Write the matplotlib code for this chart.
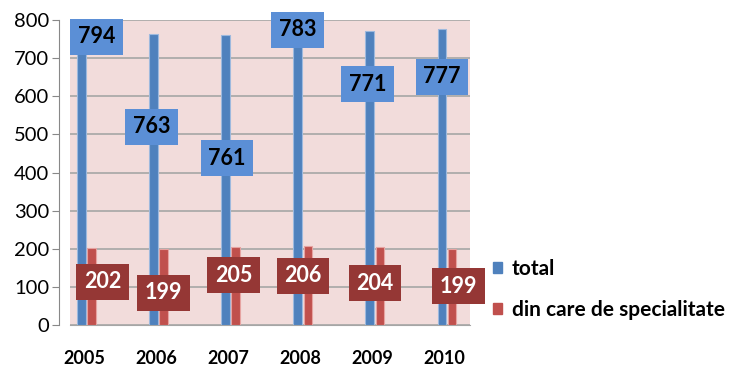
import matplotlib
matplotlib.use("Agg")
import matplotlib.pyplot as plt
from matplotlib.patches import Patch
from matplotlib.font_manager import FontProperties

years = ["2005", "2006", "2007", "2008", "2009", "2010"]
total = [794, 763, 761, 783, 771, 777]
specialitate = [202, 199, 205, 206, 204, 199]
series_names = ["total", "din care de specialitate"]
y_ticks = [0, 100, 200, 300, 400, 500, 600, 700, 800]

# label placement (data units) as in the reference
total_label_x = [0.17, -0.07, -0.02, -0.04, -0.07, -0.04]
total_label_y = [756, 520, 438, 774, 632, 651]
spec_label_x = [0.25, 0.10, 0.07, 0.03, 0.03, 0.19]
spec_label_y = [113, 84, 131, 129, 110, 102]

blue = "#4F81BD"
blue_box = "#5B8FD6"
red = "#C0504D"
red_box = "#953735"
wall = "#F2DCDB"

plt.rcParams['font.family'] = ['Lato', 'DejaVu Sans']

fig = plt.figure(figsize=(7.31, 3.70), dpi=100)
ax = fig.add_axes([70/731, 1-325/370, 400/731, 305/370])
ax.set_facecolor(wall)

x = list(range(len(years)))
w = 0.12
ax.bar([i - 0.04 for i in x], total, width=w, color=blue, edgecolor="#9DB9DE", linewidth=0.8, zorder=3)
ax.bar([i + 0.10 for i in x], specialitate, width=w, color=red, edgecolor="#E6A3A1", linewidth=0.8, zorder=3)

for i in x:
    ax.text(i + total_label_x[i], total_label_y[i], str(total[i]), ha="center", va="center",
            fontsize=15.5, fontweight="bold", color="black", zorder=5,
            bbox=dict(boxstyle="square,pad=0.35", fc=blue_box, ec="none"))
    ax.text(i + spec_label_x[i], spec_label_y[i], str(specialitate[i]), ha="center", va="center",
            fontsize=15.5, fontweight="bold", color="white", zorder=5,
            bbox=dict(boxstyle="square,pad=0.35", fc=red_box, ec="none"))

ax.set_xlim(-0.2, 5.35)
ax.set_ylim(0, 800)
ax.set_yticks(y_ticks)
ax.set_xticks(x)
ax.set_xticklabels(years, fontsize=13, fontweight="bold")
ax.tick_params(axis="y", labelsize=14.5, length=5, color="#888888", pad=2)
ax.tick_params(axis="x", length=0, pad=18)
ax.grid(axis="y", color="#A6A6A6", linewidth=1.2, zorder=0)
for s in ["top", "right"]:
    ax.spines[s].set_visible(False)
ax.spines["left"].set_position(("outward", 8))
ax.spines["left"].set_color("#888888")
ax.spines["bottom"].set_color("#A6A6A6")

handles = [Patch(color=blue), Patch(color=red)]
legend_font = FontProperties(family="Lato", weight="bold", size=15)
fig.legend(handles, series_names, loc="upper left", bbox_to_anchor=(474/731, 1-240/370),
           frameon=False, handlelength=0.45, handleheight=0.45,
           handletextpad=0.45, labelspacing=1.0, prop=legend_font)

fig.savefig("out.png", dpi=100)
